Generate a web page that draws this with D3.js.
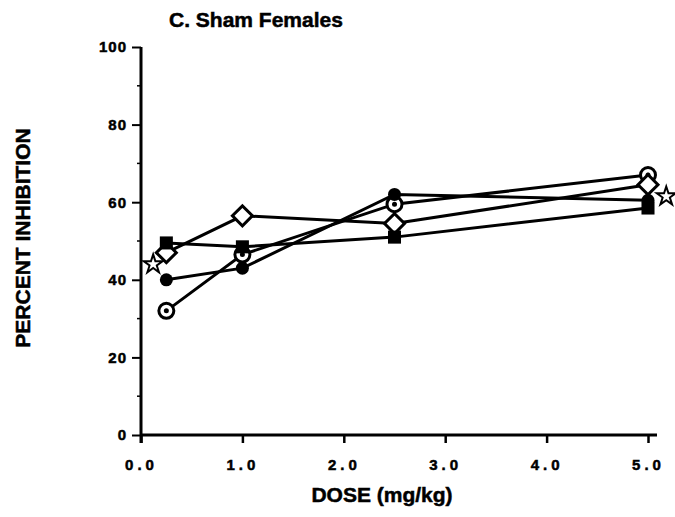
<!DOCTYPE html>
<html>
<head>
<meta charset="utf-8">
<script src="https://d3js.org/d3.v7.min.js"></script>
<style>
  body { margin: 0; background: #fff; }
  text { font-family: "Liberation Sans", Arial, sans-serif; font-weight: bold; fill: #000; stroke: #000; stroke-width: 0.5px; }
</style>
</head>
<body>
<svg id="drawing_region"></svg>
<script>
// dose levels (mg/kg)
const doses = [0.25, 1.0, 2.5, 5.0];
// percent inhibition per group
const squareVals  = [49.5, 48.5, 51.0, 58.5];
const diamondVals = [47.0, 56.5, 54.5, 64.5];
const dotVals     = [40.0, 43.0, 62.0, 60.5];
const ringVals    = [32.0, 46.5, 59.5, 67.0];
// lone star markers
const starDoses = [0.12, 5.18];
const starVals  = [44.0, 61.5];

const xTicks = [0, 1, 2, 3, 4, 5];
const yTicks = [0, 20, 40, 60, 80, 100];
const yMinorTicks = [10, 30, 50, 70, 90];

const config = {
    width: 675,
    height: 517,
    margin: {top: 47, right: 27, bottom: 82, left: 141}
};

const svg = d3.select('#drawing_region')
    .attr('width', config.width)
    .attr('height', config.height);

const inner_width = 648 - config.margin.left;
const inner_height = config.height - config.margin.top - config.margin.bottom;

const chart = svg.append('g')
    .attr('transform', `translate(${config.margin.left}, ${config.margin.top})`);

const xscale = d3.scaleLinear().domain([0, 5]).range([0, inner_width]);
const yscale = d3.scaleLinear().domain([0, 100]).range([inner_height, 0]);

// title
svg.append('text')
    .attr('x', 169)
    .attr('y', 27)
    .attr('font-size', '21px')
    .text('C. Sham Females');

// x axis
const xaxis = d3.axisBottom(xscale)
    .tickValues(xTicks)
    .tickSize(8)
    .tickSizeOuter(0)
    .tickPadding(16)
    .tickFormat(d3.format('.1f'));

const xaxis_group = chart.append('g')
    .attr('transform', `translate(0, ${inner_height})`)
    .call(xaxis);
xaxis_group.select('.domain').remove();
xaxis_group.append('line')
    .attr('x1', 0).attr('x2', inner_width + 9)
    .attr('y1', 0).attr('y2', 0)
    .attr('stroke', '#000').attr('stroke-width', 3);
xaxis_group.selectAll('.tick line').attr('stroke-width', 2.5);
xaxis_group.selectAll('.tick text')
    .attr('font-size', '15px')
    .attr('letter-spacing', '4px')
    .attr('fill', '#000');

// y axis
const yaxis = d3.axisLeft(yscale)
    .tickValues(yTicks)
    .tickSize(9)
    .tickSizeOuter(0)
    .tickPadding(5)
    .tickFormat(d3.format('d'));

const yaxis_group = chart.append('g').call(yaxis);
yaxis_group.select('.domain').remove();
yaxis_group.append('line')
    .attr('x1', 0).attr('x2', 0)
    .attr('y1', 0).attr('y2', inner_height + 8)
    .attr('stroke', '#000').attr('stroke-width', 3);
yaxis_group.selectAll('.tick line').attr('stroke-width', 2);
yaxis_group.selectAll('.tick text')
    .attr('font-size', '15px')
    .attr('letter-spacing', '1px')
    .attr('fill', '#000');

chart.append('g')
    .selectAll('line')
    .data(yMinorTicks)
    .join('line')
    .attr('x1', -4).attr('x2', 0)
    .attr('y1', d => yscale(d)).attr('y2', d => yscale(d))
    .attr('stroke', '#000').attr('stroke-width', 1.5);

// axis labels
svg.append('text')
    .attr('x', 382)
    .attr('y', 502)
    .attr('text-anchor', 'middle')
    .attr('font-size', '21px')
    .text('DOSE (mg/kg)');

svg.append('text')
    .attr('transform', 'translate(30, 238) rotate(-90)')
    .attr('text-anchor', 'middle')
    .attr('font-size', '21px')
    .text('PERCENT INHIBITION');

// lines
const line = d3.line()
    .x(d => xscale(d[0]))
    .y(d => yscale(d[1]));

const groups = [
    {vals: ringVals, shape: 'ring'},
    {vals: dotVals, shape: 'dot'},
    {vals: diamondVals, shape: 'diamond'},
    {vals: squareVals, shape: 'square'}
];

groups.forEach(g => {
    chart.append('path')
        .datum(doses.map((d, i) => [d, g.vals[i]]))
        .attr('d', line)
        .attr('fill', 'none')
        .attr('stroke', '#000')
        .attr('stroke-width', 3);
});

// markers
const markers = chart.append('g');

function drawMarkers(vals, shape) {
    const pts = doses.map((d, i) => [xscale(d), yscale(vals[i])]);
    const sel = markers.append('g').selectAll('g')
        .data(pts)
        .join('g')
        .attr('transform', d => `translate(${d[0]}, ${d[1]})`);

    if (shape === 'ring') {
        sel.append('circle').attr('r', 7.5)
            .attr('fill', '#fff').attr('stroke', '#000').attr('stroke-width', 3);
        sel.append('circle').attr('r', 2.5).attr('fill', '#000');
    } else if (shape === 'dot') {
        sel.append('circle').attr('r', 6.5).attr('fill', '#000');
    } else if (shape === 'diamond') {
        sel.append('path')
            .attr('d', d3.symbol().type(d3.symbolSquare).size(200)())
            .attr('transform', 'rotate(45)')
            .attr('fill', '#fff').attr('stroke', '#000').attr('stroke-width', 3);
    } else if (shape === 'square') {
        sel.append('path')
            .attr('d', d3.symbol().type(d3.symbolSquare).size(170)())
            .attr('fill', '#000');
    }
}

groups.forEach(g => drawMarkers(g.vals, g.shape));

markers.append('g')
    .selectAll('path')
    .data(starDoses.map((d, i) => [d, starVals[i]]))
    .join('path')
    .attr('transform', d => `translate(${xscale(d[0])}, ${yscale(d[1])})`)
    .attr('d', d3.symbol().type(d3.symbolStar).size(110)())
    .attr('fill', '#fff')
    .attr('stroke', '#000')
    .attr('stroke-width', 2);
</script>
</body>
</html>
